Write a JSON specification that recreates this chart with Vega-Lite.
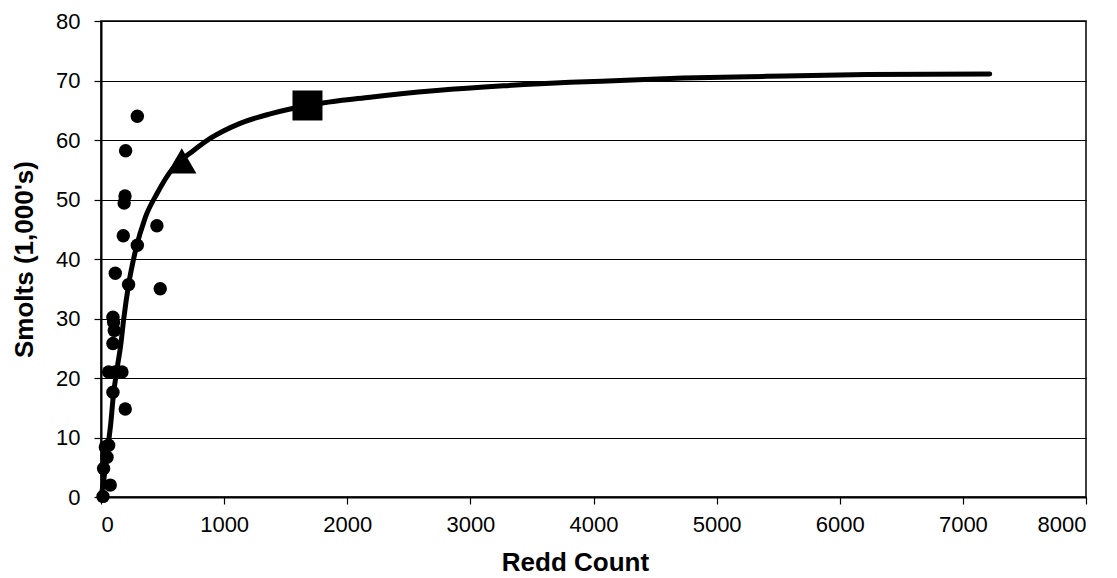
{
  "$schema": "https://vega.github.io/schema/vega-lite/v6.json",
  "autosize": "none",
  "width": 985,
  "height": 476,
  "padding": {"left": 101, "top": 21, "right": 31, "bottom": 81},
  "background": "#ffffff",
  "config": {
    "font": "Liberation Sans",
    "view": {"stroke": "#000000", "strokeWidth": 1.5},
    "axis": {
      "domainColor": "#000000",
      "domainWidth": 2,
      "tickColor": "#000000",
      "tickWidth": 1.2,
      "tickSize": 7,
      "labelFont": "Liberation Sans",
      "labelFontSize": 22,
      "labelColor": "#000000",
      "titleFont": "Liberation Sans",
      "titleFontSize": 26,
      "titleFontWeight": "bold",
      "titleColor": "#000000"
    }
  },
  "datasets": {
    "obs": [
      {"redds": 295, "smolts": 64.0},
      {"redds": 200, "smolts": 58.2},
      {"redds": 195, "smolts": 50.6},
      {"redds": 188, "smolts": 49.4},
      {"redds": 181, "smolts": 43.9},
      {"redds": 454, "smolts": 45.6},
      {"redds": 295, "smolts": 42.3},
      {"redds": 116, "smolts": 37.6},
      {"redds": 224, "smolts": 35.7},
      {"redds": 481, "smolts": 35.0},
      {"redds": 97, "smolts": 30.2},
      {"redds": 102, "smolts": 29.4},
      {"redds": 108, "smolts": 28.0},
      {"redds": 97, "smolts": 25.8},
      {"redds": 62, "smolts": 21.0},
      {"redds": 116, "smolts": 21.0},
      {"redds": 170, "smolts": 21.0},
      {"redds": 97, "smolts": 17.6},
      {"redds": 197, "smolts": 14.8},
      {"redds": 62, "smolts": 8.7},
      {"redds": 35, "smolts": 8.4},
      {"redds": 49, "smolts": 6.7},
      {"redds": 21, "smolts": 4.8},
      {"redds": 75, "smolts": 2.0},
      {"redds": 16, "smolts": 0.1}
    ],
    "curve": [
      {"redds": 0, "smolts": 0},
      {"redds": 20, "smolts": 2.5},
      {"redds": 50, "smolts": 7.5},
      {"redds": 80, "smolts": 12.5},
      {"redds": 100, "smolts": 17.0},
      {"redds": 130, "smolts": 21.5},
      {"redds": 160, "smolts": 25.5},
      {"redds": 185, "smolts": 30.0},
      {"redds": 225, "smolts": 35.8},
      {"redds": 280, "smolts": 41.4},
      {"redds": 360, "smolts": 47.0},
      {"redds": 455, "smolts": 51.0},
      {"redds": 575, "smolts": 55.0},
      {"redds": 656, "smolts": 56.7},
      {"redds": 730, "smolts": 57.9},
      {"redds": 890, "smolts": 60.3},
      {"redds": 1130, "smolts": 62.8},
      {"redds": 1375, "smolts": 64.4},
      {"redds": 1677, "smolts": 65.8},
      {"redds": 2186, "smolts": 67.2},
      {"redds": 2727, "smolts": 68.3},
      {"redds": 3268, "smolts": 69.1},
      {"redds": 3809, "smolts": 69.7},
      {"redds": 4215, "smolts": 70.0},
      {"redds": 4729, "smolts": 70.4},
      {"redds": 5406, "smolts": 70.7},
      {"redds": 6218, "smolts": 71.0},
      {"redds": 7218, "smolts": 71.1}
    ],
    "markers": [
      {"redds": 656, "smolts": 56.5, "kind": "triangle"},
      {"redds": 1677, "smolts": 65.8, "kind": "square"}
    ]
  },
  "encoding": {
    "x": {
      "field": "redds",
      "type": "quantitative",
      "scale": {"domain": [0, 8000], "nice": false, "zero": true},
      "axis": {
        "title": "Redd Count",
        "values": [0, 1000, 2000, 3000, 4000, 5000, 6000, 7000, 8000],
        "format": "d",
        "grid": false,
        "labelPadding": 10,
        "titlePadding": 14,
        "titleX": 474
      }
    },
    "y": {
      "field": "smolts",
      "type": "quantitative",
      "scale": {"domain": [0, 80], "nice": false},
      "axis": {
        "title": "Smolts (1,000's)",
        "values": [0, 10, 20, 30, 40, 50, 60, 70, 80],
        "grid": true,
        "gridColor": "#000000",
        "gridWidth": 1.2,
        "gridOpacity": 1,
        "labelPadding": 14,
        "titlePadding": 18
      }
    }
  },
  "layer": [
    {
      "data": {"name": "obs"},
      "mark": {"type": "circle", "size": 180, "color": "#000000", "opacity": 1}
    },
    {
      "data": {"name": "curve"},
      "mark": {"type": "line", "color": "#000000", "strokeWidth": 5, "interpolate": "monotone", "strokeCap": "round", "strokeJoin": "round"}
    },
    {
      "data": {"name": "markers"},
      "mark": {"type": "point", "filled": true, "color": "#000000", "opacity": 1},
      "encoding": {
        "shape": {
          "field": "kind",
          "type": "nominal",
          "scale": {"domain": ["triangle", "square"], "range": ["triangle-up", "square"]},
          "legend": null
        },
        "size": {
          "field": "kind",
          "type": "nominal",
          "scale": {"domain": ["triangle", "square"], "range": [860, 900]},
          "legend": null
        }
      }
    }
  ]
}
